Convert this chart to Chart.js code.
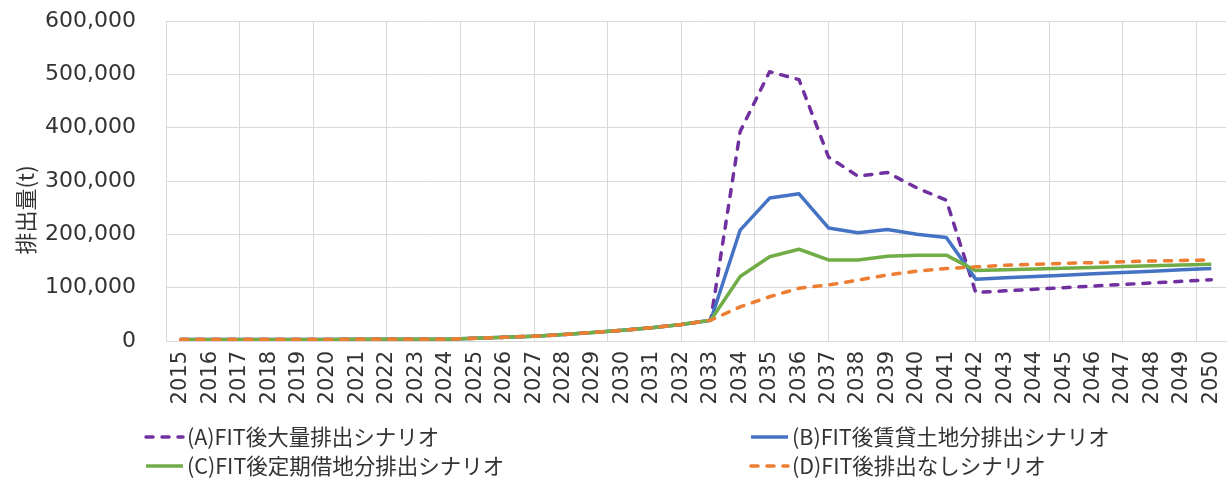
<!DOCTYPE html>
<html>
<head>
<meta charset="utf-8">
<script src="https://cdn.jsdelivr.net/npm/chart.js@4"></script>
<style>
  html, body { margin: 0; padding: 0; background: #fff; }
  #wrap { position: relative; width: 1227px; height: 480px; }
</style>
</head>
<body>
<div id="wrap"><canvas id="c" width="1227" height="480"></canvas></div>
<script>
// Years on the category axis
const years = ['2015','2016','2017','2018','2019','2020','2021','2022','2023','2024',
               '2025','2026','2027','2028','2029','2030','2031','2032','2033','2034',
               '2035','2036','2037','2038','2039','2040','2041','2042','2043','2044',
               '2045','2046','2047','2048','2049','2050'];

// Emissions (t) per scenario
const seriesA = [3000, 2800, 2700, 2700, 2700, 2800, 3200, 3300, 3300, 3500,
                 5000, 7000, 9000, 12000, 16000, 20000, 25000, 31000, 39000,
                 393000, 505000, 490000, 345000, 309000, 316000, 287000, 264000,
                 91000, 94000, 97000, 100000, 103000, 106000, 109000, 112000, 115000];
const seriesB = [3000, 2800, 2700, 2700, 2700, 2800, 3200, 3300, 3300, 3500,
                 5000, 7000, 9000, 12000, 16000, 20000, 25000, 31000, 39000,
                 208000, 268000, 276000, 212000, 203000, 209000, 200000, 194000,
                 116000, 118500, 121000, 123500, 126000, 128500, 131000, 133500, 136000];
const seriesC = [3000, 2800, 2700, 2700, 2700, 2800, 3200, 3300, 3300, 3500,
                 5000, 7000, 9000, 12000, 16000, 20000, 25000, 31000, 39000,
                 121000, 158000, 172000, 152000, 152000, 159000, 161000, 161000,
                 132000, 133500, 135000, 136500, 138000, 139500, 141000, 142500, 144000];
const seriesD = [3000, 2800, 2700, 2700, 2700, 2800, 3200, 3300, 3300, 3500,
                 5000, 7000, 9000, 12000, 16000, 20000, 25000, 31000, 39000,
                 64000, 83000, 99000, 105000, 114000, 124000, 131000, 136000,
                 139000, 142000, 144000, 145500, 147000, 148500, 150000, 151000, 152000];

const seriesNames = ['(A)FIT後大量排出シナリオ', '(B)FIT後賃貸土地分排出シナリオ',
                     '(C)FIT後定期借地分排出シナリオ', '(D)FIT後排出なしシナリオ'];
const yTitle = '排出量(t)';
const yTicks = [0, 100000, 200000, 300000, 400000, 500000, 600000];

const GRID = '#d9d9d9';
const TEXT = '#333333';
const DASH = [7, 9];

// Two-column legend and vertical axis title drawn on the canvas
const extrasPlugin = {
  id: 'extras',
  afterDraw(chart) {
    const ctx = chart.ctx;
    const cols = [143, 748];
    const rows = [437, 466];
    chart.data.datasets.forEach((ds, i) => {
      const x = cols[i % 2];
      const y = rows[Math.floor(i / 2)];
      ctx.save();
      ctx.strokeStyle = ds.borderColor;
      ctx.lineWidth = ds.borderWidth;
      ctx.lineCap = ds.borderCapStyle || 'butt';
      ctx.setLineDash(ds.borderDash || []);
      ctx.beginPath();
      ctx.moveTo(x + 3, y);
      ctx.lineTo(x + 40, y);
      ctx.stroke();
      ctx.setLineDash([]);
      ctx.fillStyle = TEXT;
      ctx.font = '21.5px "Noto Sans CJK JP"';
      ctx.textAlign = 'left';
      ctx.textBaseline = 'middle';
      ctx.fillText(ds.label, x + 44, y);
      ctx.restore();
    });
    ctx.save();
    ctx.translate(26, 210);
    ctx.rotate(-Math.PI / 2);
    ctx.fillStyle = TEXT;
    ctx.font = '22px "Noto Sans CJK JP"';
    ctx.textAlign = 'center';
    ctx.textBaseline = 'middle';
    ctx.fillText(yTitle, 0, 0);
    ctx.restore();
  }
};

function line(label, data, color, dashed, order) {
  return {
    label, data, order,
    borderColor: color,
    backgroundColor: color,
    borderWidth: 3.5,
    borderDash: dashed ? DASH : [],
    borderCapStyle: dashed ? 'round' : 'butt',
    borderJoinStyle: 'round',
    pointRadius: 0,
    tension: 0,
    fill: false
  };
}

new Chart(document.getElementById('c'), {
  type: 'line',
  data: {
    labels: years,
    datasets: [
      line(seriesNames[0], seriesA, '#7030A0', true, 4),
      line(seriesNames[1], seriesB, '#4472C4', false, 3),
      line(seriesNames[2], seriesC, '#70AD47', false, 2),
      line(seriesNames[3], seriesD, '#ED7D31', true, 1)
    ]
  },
  options: {
    responsive: false,
    animation: false,
    layout: { padding: { top: 21, right: 1, left: 0, bottom: 0 } },
    plugins: { legend: { display: false }, tooltip: { enabled: false } },
    scales: {
      x: {
        type: 'category',
        offset: true,
        grid: { display: false, drawTicks: false },
        border: { display: true, color: GRID, width: 1 },
        ticks: {
          minRotation: 90, maxRotation: 90, autoSkip: false, padding: 10,
          color: TEXT, font: { family: 'DejaVu Sans', size: 21 }
        },
        afterFit(scale) {
          scale.height = 139;
          scale.paddingLeft = 0;
          scale.paddingRight = 0;
        }
      },
      xg: {
        type: 'linear',
        position: 'bottom',
        min: 0, max: 36,
        grid: { color: GRID, lineWidth: 1, drawTicks: false },
        border: { display: false },
        ticks: { display: false, stepSize: 2.5, includeBounds: false },
        afterFit(scale) {
          scale.height = 0;
          scale.paddingLeft = 0;
          scale.paddingRight = 0;
        }
      },
      y: {
        min: 0, max: 600000,
        afterBuildTicks(scale) { scale.ticks = yTicks.map(v => ({ value: v })); },
        grid: { color: GRID, lineWidth: 1, drawTicks: false },
        border: { display: true, color: GRID, width: 1 },
        ticks: {
          padding: 30, color: TEXT,
          font: { family: 'DejaVu Sans', size: 22 },
          callback: v => v.toLocaleString('en-US')
        },
        afterFit(scale) {
          scale.width = 166;
          scale.paddingTop = 0;
          scale.paddingBottom = 0;
        }
      }
    }
  },
  plugins: [extrasPlugin]
});
</script>
</body>
</html>
